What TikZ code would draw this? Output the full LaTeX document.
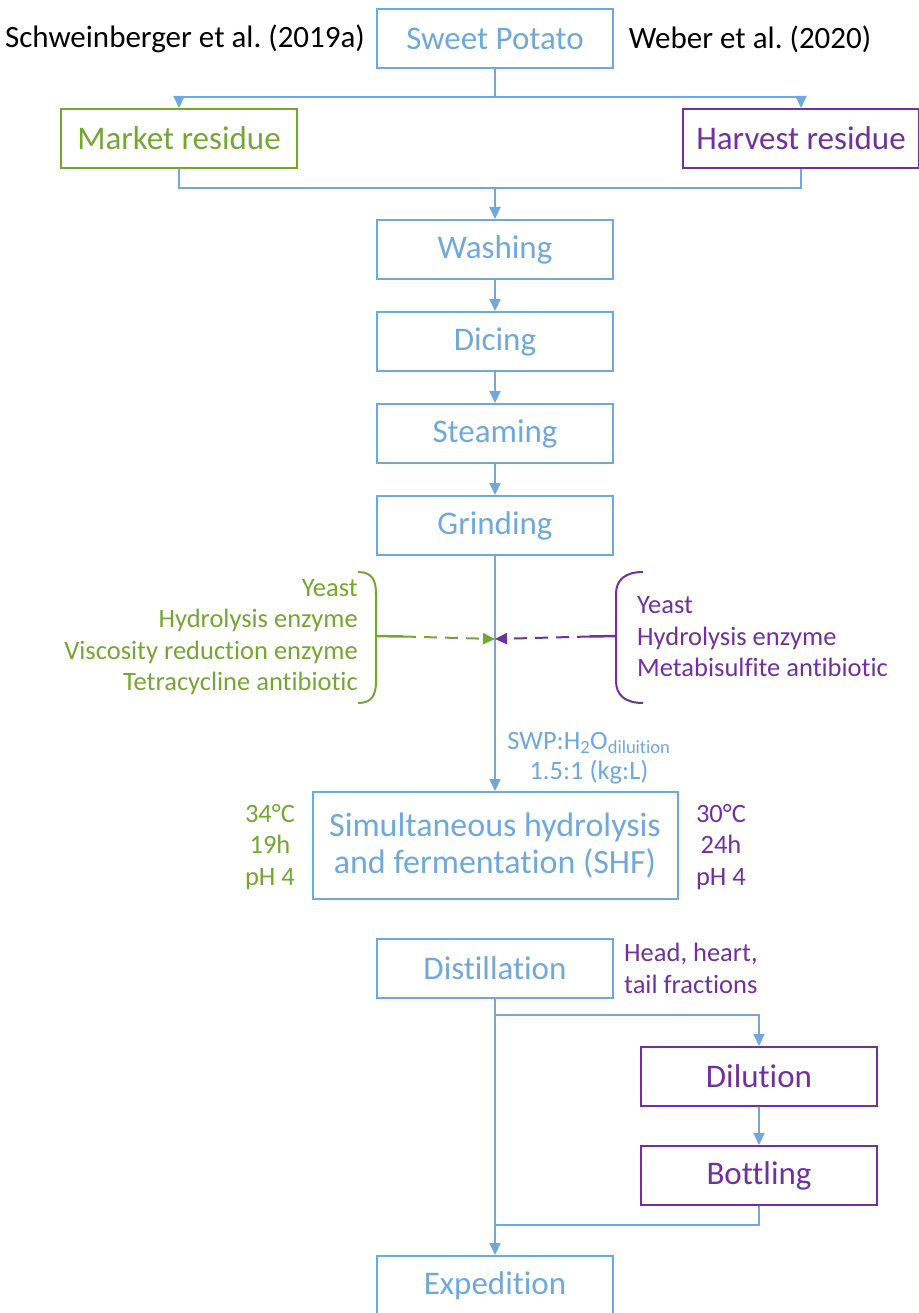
\documentclass[tikz,border=0pt]{standalone}
\usepackage{fontspec}
\setmainfont[Ligatures=NoCommon]{Carlito}
\usetikzlibrary{arrows.meta}
\definecolor{cblue}{RGB}{111,168,220}
\definecolor{cgreen}{RGB}{116,166,50}
\definecolor{cpurple}{RGB}{112,48,160}
\frenchspacing
\begin{document}
\begin{tikzpicture}[x=1pt,y=-1pt,
  box/.style={draw=cblue, line width=2pt, minimum width=236pt, minimum height=59pt, inner sep=0pt, text=cblue, font=\fontsize{33}{38}\selectfont},
  gbox/.style={box, draw=cgreen, text=cgreen},
  pbox/.style={box, draw=cpurple, text=cpurple},
  lbl/.style={inner sep=0pt, font=\fontsize{31}{36}\selectfont},
  small/.style={inner sep=0pt, font=\fontsize{26.5}{31.5}\selectfont},
  conn/.style={draw=cblue, line width=2pt},
  arr/.style={conn, -{Triangle[length=12pt,width=11pt]}},
  brace/.style={line width=2pt},
]
\useasboundingbox (0,0) rectangle (918,1313);

\node[box] (sp) at (495,38.5) {Sweet Potato};
\node[lbl] (schw) at (185,39) {Schweinberger et al. (2019a)};
\node[lbl] (web) at (750,39) {Weber et al. (2020)};
\node[gbox] (mr) at (179,138.5) {Market residue};
\node[pbox] (hr) at (801,138.5) {Harvest residue};
\node[box] (wash) at (495,249.5) {Washing};
\node[box] (dice) at (495,341.5) {Dicing};
\node[box] (steam) at (495,433.5) {Steaming};
\node[box] (grind) at (495,525.5) {Grinding};
\node[box, minimum width=365pt, minimum height=107pt, align=center, font=\fontsize{34}{37}\selectfont] (shf) at (495,845.5) {Simultaneous hydrolysis\\and fermentation (SHF)};
\node[box] (dist) at (495,968.5) {Distillation};
\node[pbox] (dil) at (759,1076.5) {Dilution};
\node[pbox] (bot) at (759,1175.5) {Bottling};
\node[box] (exp) at (495,1285.5) {Expedition};

% top split
\coordinate (j1) at (495,97);
\coordinate (j2) at (495,188);
\draw[conn] (sp.south) -- (j1);
\draw[arr] (j1) -| (mr.north);
\draw[arr] (j1) -| (hr.north);
\draw[conn] (mr.south) |- (j2);
\draw[conn] (hr.south) |- (j2);
\draw[arr] (j2) -- (wash.north);
\draw[arr] (wash) -- (dice);
\draw[arr] (dice) -- (steam);
\draw[arr] (steam) -- (grind);
\draw[arr] (grind.south) -- (shf.north);

% left additives
\draw[cgreen, brace] (358,572) .. controls (372,572) and (376,580) .. (376,594) -- (376,681) .. controls (376,695) and (372,703) .. (358,703);
\coordinate (lb) at (376,636);
\coordinate (lbt) at (403,636.5);
\coordinate (lmix) at (495,639);
\draw[cgreen, line width=2.5pt] (lb) -- (lbt);
\draw[cgreen, line width=2pt, dash pattern=on 13pt off 8pt, -{Triangle[length=12pt,width=11pt]}] (lbt) -- (lmix);
\node[small, text=cgreen, anchor=east, align=right] (ladd) at (358,637) {Yeast\\Hydrolysis enzyme\\Viscosity reduction enzyme\\Tetracycline antibiotic};

% right additives
\draw[cpurple, brace] (643,572) .. controls (625,572) and (616,580) .. (616,594) -- (616,681) .. controls (616,695) and (625,703) .. (643,703);
\coordinate (rb) at (616,636);
\coordinate (rbt) at (590,636.5);
\coordinate (rmix) at (495,639);
\draw[cpurple, line width=2.5pt] (rb) -- (rbt);
\draw[cpurple, line width=2pt, dash pattern=on 13pt off 8pt, -{Triangle[length=12pt,width=11pt]}] (rbt) -- (rmix);
\node[small, text=cpurple, anchor=west, align=left] (radd) at (637,637) {Yeast\\Hydrolysis enzyme\\Metabisulfite antibiotic};

% dilution ratio
\node[small, text=cblue, align=center, font=\fontsize{26.5}{30}\selectfont] (swp) at (589,758) {SWP:H\textsubscript{2}O\textsubscript{diluition}\\1.5:1 (kg:L)};

% SHF conditions
\node[small, text=cgreen, align=center] (gcond) at (270,847) {34°C\\19h\\pH 4};
\node[small, text=cpurple, align=center] (pcond) at (721,847) {30°C\\24h\\pH 4};

% distillation
\node[small, text=cpurple, anchor=west, align=left] (frac) at (624,968.5) {Head, heart,\\tail fractions};
\coordinate (j3) at (495,1015);
\coordinate (j4) at (495,1225);
\draw[arr] (dist.south) -- (exp.north);
\draw[arr] (j3) -| (dil.north);
\draw[arr] (dil) -- (bot);
\draw[conn] (bot.south) |- (j4);
\end{tikzpicture}
\end{document}
